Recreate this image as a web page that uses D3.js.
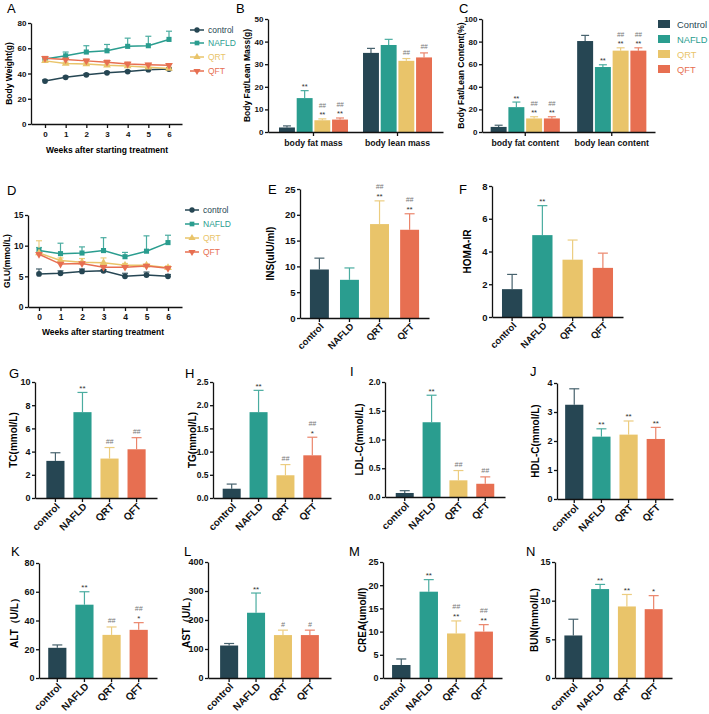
<!DOCTYPE html>
<html>
<head>
<meta charset="utf-8">
<script src="https://cdn.jsdelivr.net/npm/d3@7"></script>
<style>
  body { margin: 0; background: #fff; }
  svg text { font-family: Arial, "Liberation Sans", sans-serif; }
</style>
</head>
<body>
<svg id="fig" width="709" height="714"></svg>
<script>
// ---- data ----
const groups = ['control', 'NAFLD', 'QRT', 'QFT'];
const legendNames = ['Control', 'NAFLD', 'QRT', 'QFT'];
const colors = ['#264653', '#2a9d8f', '#e9c46a', '#e76f51'];
const weeks = [0, 1, 2, 3, 4, 5, 6];

// A: body weight (g)
const bwControl = [34, 37, 39, 40.5, 41.5, 43, 43.5];
const bwControlErr = [0.8, 0.8, 0.8, 0.8, 0.8, 0.8, 0.8];
const bwNafld = [51.5, 54, 57, 58, 61.5, 62, 67];
const bwNafldErr = [1.5, 3, 5, 5, 6.5, 7.5, 6.5];
const bwQrt = [50, 48, 47.5, 46.5, 46, 45, 44];
const bwQrtErr = [1.5, 1, 1, 1, 1, 1, 1];
const bwQft = [52, 51, 50, 49, 47.5, 47, 46.5];
const bwQftErr = [1.5, 1, 1.5, 1.5, 1.5, 1, 1];

// D: GLU (mmol/L)
const gluControl = [5.4, 5.5, 5.8, 5.9, 5.0, 5.2, 5.0];
const gluControlErr = [0.8, 0.4, 0.4, 0.2, 0.5, 0.5, 0.3];
const gluNafld = [9.2, 8.7, 8.8, 9.2, 8.2, 9.1, 10.5];
const gluNafldErr = [0.5, 1.7, 1.0, 2.1, 0.7, 2.5, 1.2];
const gluQrt = [8.8, 7.6, 7.3, 7.2, 6.8, 6.8, 6.4];
const gluQrtErr = [2.0, 0.4, 0.6, 0.8, 0.3, 0.2, 0.3];
const gluQft = [8.6, 7.0, 7.1, 6.5, 6.5, 6.7, 6.3];
const gluQftErr = [0.3, 0.3, 0.3, 0.3, 0.3, 0.2, 0.2];

// B: body fat / lean mass (g)
const massCats = ['body fat mass', 'body lean mass'];
const fatMass = [2, 15, 5.2, 5.5];
const fatMassErr = [0.7, 3.3, 0.6, 0.7];
const fatMassStar = ['', '**', '**', '**'];
const fatMassHash = ['', '', '##', '##'];
const leanMass = [35, 38.5, 31.5, 33];
const leanMassErr = [2, 2.5, 1, 2];
const leanMassStar = ['', '', '', ''];
const leanMassHash = ['', '', '##', '##'];

// C: body fat / lean content (%)
const contentCats = ['body fat content', 'body lean content'];
const fatContent = [4.5, 22, 12, 12];
const fatContentErr = [1.5, 4.5, 1.5, 1.5];
const fatContentStar = ['', '**', '**', '**'];
const fatContentHash = ['', '', '##', '##'];
const leanContent = [80.5, 57.5, 72, 72];
const leanContentErr = [5, 2, 2.5, 2.5];
const leanContentStar = ['', '**', '**', '**'];
const leanContentHash = ['', '', '##', '##'];

// E - N
const ins = [9.4, 7.4, 18.2, 17.1];
const insErr = [2.2, 2.3, 4.5, 3.1];
const insStar = ['', '', '**', '**'];
const insHash = ['', '', '##', '##'];
const homa = [1.7, 5.0, 3.5, 3.0];
const homaErr = [0.9, 1.8, 1.2, 0.9];
const homaStar = ['', '**', '', ''];
const homaHash = ['', '', '', ''];
const tc = [3.2, 7.4, 3.4, 4.2];
const tcErr = [0.7, 1.7, 0.95, 1.0];
const tcStar = ['', '**', '', ''];
const tcHash = ['', '', '##', '##'];
const tg = [0.2, 1.85, 0.49, 0.92];
const tgErr = [0.1, 0.47, 0.23, 0.39];
const tgStar = ['', '**', '', '*'];
const tgHash = ['', '', '##', '##'];
const ldl = [0.07, 1.3, 0.29, 0.23];
const ldlErr = [0.04, 0.47, 0.17, 0.12];
const ldlStar = ['', '**', '', ''];
const ldlHash = ['', '', '##', '##'];
const hdl = [3.25, 2.15, 2.22, 2.07];
const hdlErr = [0.55, 0.27, 0.47, 0.4];
const hdlStar = ['', '**', '**', '**'];
const hdlHash = ['', '', '', ''];
const alt = [21, 51, 30, 33.5];
const altErr = [2, 9, 5.5, 5];
const altStar = ['', '**', '', '*'];
const altHash = ['', '', '##', '##'];
const ast = [112, 225, 148, 148];
const astErr = [7, 68, 17, 17];
const astStar = ['', '**', '', ''];
const astHash = ['', '', '#', '#'];
const crea = [2.8, 18.6, 9.6, 10];
const creaErr = [1.3, 2.6, 2.7, 1.5];
const creaStar = ['', '**', '**', '**'];
const creaHash = ['', '', '##', '##'];
const bun = [5.5, 11.5, 9.25, 8.9];
const bunErr = [2.1, 0.6, 1.55, 1.75];
const bunStar = ['', '**', '**', '*'];
const bunHash = ['', '', '', ''];

// ---- drawing ----
const svg = d3.select('#fig');
const FONT = 'Arial, "Liberation Sans", sans-serif';

function light(c, t) {
    return d3.interpolateRgb(c, '#ffffff')(t);
}

function styleAxis(sel, size) {
    sel.attr('font-size', size).attr('font-family', FONT).attr('font-weight', 'bold');
    sel.selectAll('.domain, .tick line').attr('stroke', '#111').attr('stroke-width', 1.3);
    sel.selectAll('text').attr('fill', '#111');
}

function yAxis(g, p, y, fmt) {
    styleAxis(g.append('g').attr('transform', `translate(${p.x0},0)`)
        .call(d3.axisLeft(y).tickValues(d3.range(0, p.max + 1e-9, p.step))
            .tickFormat(d3.format(fmt || 'd')).tickSize(3).tickPadding(1.5).tickSizeOuter(0)), p.tick);
}

function letter(txt, x, y) {
    svg.append('text').attr('x', x).attr('y', y).attr('font-size', 13).text(txt);
}

function yTitle(g, txt, x, cy, size) {
    g.append('text')
        .attr('transform', `translate(${x + size * 0.36},${cy}) rotate(-90)`)
        .attr('text-anchor', 'middle')
        .attr('font-size', size)
        .attr('font-weight', 'bold')
        .text(txt);
}

function errorBar(g, cx, y0, y1, col, cap) {
    g.append('line').attr('x1', cx).attr('x2', cx).attr('y1', y0).attr('y2', y1)
        .attr('stroke', col).attr('stroke-width', 1.2);
    g.append('line').attr('x1', cx - cap / 2).attr('x2', cx + cap / 2).attr('y1', y1).attr('y2', y1)
        .attr('stroke', col).attr('stroke-width', 1.2);
}

function sig(g, cx, top, star, hash, size) {
    let base = top - 1.5;
    if (star) {
        g.append('text').attr('x', cx).attr('y', base).attr('text-anchor', 'middle')
            .attr('font-size', size).attr('fill', '#333').text(star);
        base -= size + 2;
    } else {
        base -= 2;
    }
    if (hash) {
        g.append('text').attr('x', cx).attr('y', base).attr('text-anchor', 'middle')
            .attr('font-size', size - 1).attr('font-style', 'italic').attr('fill', '#777').text(hash);
    }
}

// line chart panels (A, D)
function linePanel(p, means, errs) {
    const g = svg.append('g');
    const x = d3.scaleLinear().domain([0, 6]).range([p.w0, p.w6]);
    x.domain([x.invert(p.x0), x.invert(p.x1)]).range([p.x0, p.x1]);
    const y = d3.scaleLinear().domain([0, p.max]).range([p.yb, p.yt]);
    const symbols = [d3.symbolCircle, d3.symbolSquare, d3.symbolTriangle, d3.symbolTriangle];

    means.forEach((m, i) => {
        m.forEach((v, j) => errorBar(g, x(weeks[j]), y(v), y(v + errs[i][j]), light(colors[i], 0.15), 6));
    });
    means.forEach((m, i) => {
        g.append('path').datum(m)
            .attr('fill', 'none').attr('stroke', colors[i]).attr('stroke-width', 1.5)
            .attr('d', d3.line().x((d, j) => x(weeks[j])).y(d => y(d)));
        g.selectAll(null).data(m).join('path')
            .attr('transform', (d, j) => `translate(${x(weeks[j])},${y(d)})` + (i === 3 ? ' rotate(180)' : ''))
            .attr('d', d3.symbol(symbols[i], 26))
            .attr('fill', colors[i]);
    });

    styleAxis(g.append('g').attr('transform', `translate(0,${p.yb})`)
        .call(d3.axisBottom(x).tickValues(weeks).tickFormat(d3.format('d')).tickSize(4).tickSizeOuter(0)), p.tick);
    yAxis(g, p, y);

    g.append('text').attr('x', p.tx).attr('y', p.ty).attr('text-anchor', 'middle')
        .attr('font-size', p.title).attr('font-weight', 'bold').text('Weeks after starting treatment');
    yTitle(g, p.label, p.lx, (p.yt + p.yb) / 2, p.title);

    // legend
    groups.forEach((k, i) => {
        const ly = p.legY[i];
        g.append('line').attr('x1', p.legX).attr('x2', p.legX + 14).attr('y1', ly).attr('y2', ly)
            .attr('stroke', colors[i]).attr('stroke-width', 1.5);
        g.append('path').attr('transform', `translate(${p.legX + 7},${ly})` + (i === 3 ? ' rotate(180)' : ''))
            .attr('d', d3.symbol(symbols[i], 22)).attr('fill', colors[i]);
        g.append('text').attr('x', p.legX + 18).attr('y', ly + 3).attr('font-size', p.leg)
            .attr('fill', colors[i]).text(k);
    });
}

// grouped bar panels (B, C)
function groupedPanel(p, cats, vals, errs, stars, hashes) {
    const g = svg.append('g');
    const x = d3.scaleBand().domain(cats).range([p.x0, p.x1]).paddingInner(p.pi).paddingOuter(p.po);
    const xi = d3.scaleBand().domain(groups).range([0, x.bandwidth()]).paddingInner(0.1);
    const y = d3.scaleLinear().domain([0, p.max]).range([p.yb, p.yt]);
    cats.forEach((c, ci) => {
        groups.forEach((k, i) => {
            const bx = x(c) + xi(k);
            const cx = bx + xi.bandwidth() / 2;
            const v = vals[ci][i];
            const top = y(v + errs[ci][i]);
            errorBar(g, cx, y(v), top, light(colors[i], 0.15), 8);
            g.append('rect').attr('x', bx).attr('y', y(v)).attr('width', xi.bandwidth())
                .attr('height', p.yb - y(v)).attr('fill', colors[i]);
            sig(g, cx, top, stars[ci][i], hashes[ci][i], 7.5);
        });
    });
    const xa = g.append('g').attr('transform', `translate(0,${p.yb})`)
        .call(d3.axisBottom(x).tickSize(4).tickSizeOuter(0));
    styleAxis(xa, p.cat);
    xa.selectAll('.tick text').attr('y', 8);
    yAxis(g, p, y);
    yTitle(g, p.label, p.lx, (p.yt + p.yb) / 2, p.title);
    return g;
}

// simple bar panels (E - N)
function barPanel(p, vals, errs, stars, hashes) {
    const g = svg.append('g');
    const x = d3.scaleBand().domain(groups).range([p.x0, p.x1]).paddingInner(p.pi).paddingOuter(p.po);
    const y = d3.scaleLinear().domain([0, p.max]).range([p.yb, p.yt]);
    const bw = x.bandwidth();
    groups.forEach((k, i) => {
        const cx = x(k) + bw / 2;
        const top = y(vals[i] + errs[i]);
        errorBar(g, cx, y(vals[i]), top, light(colors[i], 0.15), 10);
        g.append('rect').attr('x', x(k)).attr('y', y(vals[i])).attr('width', bw)
            .attr('height', p.yb - y(vals[i])).attr('fill', colors[i]);
        sig(g, cx, top, stars[i], hashes[i], 8);
    });
    const xa = g.append('g').attr('transform', `translate(0,${p.yb})`)
        .call(d3.axisBottom(x).tickSize(4).tickSizeOuter(0));
    styleAxis(xa, p.cat);
    xa.selectAll('.tick text')
        .attr('transform', 'rotate(-45)')
        .attr('text-anchor', 'end')
        .attr('x', -3).attr('y', 10).attr('dy', 0);
    yAxis(g, p, y, p.fmt);
    yTitle(g, p.label, p.lx, (p.yt + p.yb) / 2, p.title);
}

// A
linePanel({ x0: 31, x1: 182, w0: 45, w6: 169, yt: 23, yb: 124, max: 80, step: 20,
    tick: 8, title: 8.5, tx: 107, ty: 153, lx: 9, label: 'Body Weight(g)',
    legX: 190, legY: [30, 43, 57, 71], leg: 8.5 },
    [bwControl, bwNafld, bwQrt, bwQft], [bwControlErr, bwNafldErr, bwQrtErr, bwQftErr]);
letter('A', 7, 13);

// B
groupedPanel({ x0: 268, x1: 443, pi: 0.179, po: 0.131, yt: 19, yb: 132, max: 50, step: 10,
    tick: 8, cat: 8.7, title: 8.5, lx: 247, label: 'Body Fat/Lean Mass(g)' },
    massCats, [fatMass, leanMass], [fatMassErr, leanMassErr],
    [fatMassStar, leanMassStar], [fatMassHash, leanMassHash]);
letter('B', 236, 13);

// C
const gc = groupedPanel({ x0: 482, x1: 655, pi: 0.2, po: 0.1, yt: 19, yb: 132, max: 100, step: 20,
    tick: 8, cat: 8.7, title: 8.5, lx: 461, label: 'Body Fat/Lean Content(%)' },
    contentCats, [fatContent, leanContent], [fatContentErr, leanContentErr],
    [fatContentStar, leanContentStar], [fatContentHash, leanContentHash]);
letter('C', 459, 13);
legendNames.forEach((n, i) => {
    const ly = [24, 39, 54, 69][i];
    gc.append('rect').attr('x', 658).attr('y', ly - 4).attr('width', 12).attr('height', 8).attr('fill', colors[i]);
    gc.append('text').attr('x', 677).attr('y', ly + 3.5).attr('font-size', 9.3).attr('fill', colors[i]).text(n);
});

// D
linePanel({ x0: 28, x1: 182, w0: 39, w6: 168, yt: 215, yb: 307, max: 15, step: 5,
    tick: 8.5, title: 8.5, tx: 103, ty: 335, lx: 7, label: 'GLU(mmol/L)',
    legX: 185, legY: [210, 224, 238, 252], leg: 8.5 },
    [gluControl, gluNafld, gluQrt, gluQft], [gluControlErr, gluNafldErr, gluQrtErr, gluQftErr]);
letter('D', 7, 195);

// E, F
barPanel({ x0: 300, x1: 429, pi: 0.37, po: 0.33, yt: 189, yb: 318, max: 25, step: 5,
    tick: 9.5, cat: 9.5, title: 10, lx: 270, label: 'INS(uIU/ml)' }, ins, insErr, insStar, insHash);
letter('E', 268, 194);
barPanel({ x0: 492, x1: 623, pi: 0.33, po: 0.33, yt: 186, yb: 317, max: 8, step: 2,
    tick: 9.5, cat: 9.5, title: 10, lx: 467, label: 'HOMA-IR' }, homa, homaErr, homaStar, homaHash);
letter('F', 459, 194);

// G - J
barPanel({ x0: 35, x1: 157, pi: 0.33, po: 0.42, yt: 382, yb: 498, max: 10, step: 2,
    tick: 9, cat: 10, title: 10, lx: 13, label: 'TC(mmol/L)' }, tc, tcErr, tcStar, tcHash);
letter('G', 9, 378);
barPanel({ x0: 213, x1: 331, pi: 0.33, po: 0.36, yt: 382, yb: 498, max: 2.5, step: 0.5, fmt: '.1f',
    tick: 8.5, cat: 10, title: 10, lx: 192, label: 'TG(mmol/L)' }, tg, tgErr, tgStar, tgHash);
letter('H', 185, 378);
barPanel({ x0: 385, x1: 505, pi: 0.33, po: 0.4, yt: 382, yb: 497, max: 2.0, step: 0.5, fmt: '.1f',
    tick: 8.5, cat: 10, title: 10, lx: 359, label: 'LDL-C(mmol/L)' }, ldl, ldlErr, ldlStar, ldlHash);
letter('I', 350, 376);
barPanel({ x0: 557, x1: 673, pi: 0.33, po: 0.3, yt: 383, yb: 499, max: 4, step: 1,
    tick: 9, cat: 10, title: 10, lx: 535, label: 'HDL-C(mmol/L)' }, hdl, hdlErr, hdlStar, hdlHash);
letter('J', 530, 376);

// K - N
barPanel({ x0: 39, x1: 157, pi: 0.33, po: 0.34, yt: 563, yb: 678, max: 80, step: 20,
    tick: 9, cat: 10, title: 10, lx: 14, label: 'ALT（U/L）' }, alt, altErr, altStar, altHash);
letter('K', 11, 556);
barPanel({ x0: 208, x1: 331, pi: 0.33, po: 0.45, yt: 562, yb: 678, max: 400, step: 100,
    tick: 9, cat: 10, title: 10, lx: 186, label: 'AST（U/L）' }, ast, astErr, astStar, astHash);
letter('L', 184, 556);
barPanel({ x0: 383, x1: 502, pi: 0.33, po: 0.33, yt: 562, yb: 678, max: 25, step: 5,
    tick: 9, cat: 10, title: 10, lx: 362, label: 'CREA(umol/l)' }, crea, creaErr, creaStar, creaHash);
letter('M', 349, 556);
barPanel({ x0: 555, x1: 672, pi: 0.33, po: 0.35, yt: 562, yb: 678, max: 15, step: 5,
    tick: 9, cat: 10, title: 10, lx: 534, label: 'BUN(mmol/L)' }, bun, bunErr, bunStar, bunHash);
letter('N', 526, 556);
</script>
</body>
</html>
